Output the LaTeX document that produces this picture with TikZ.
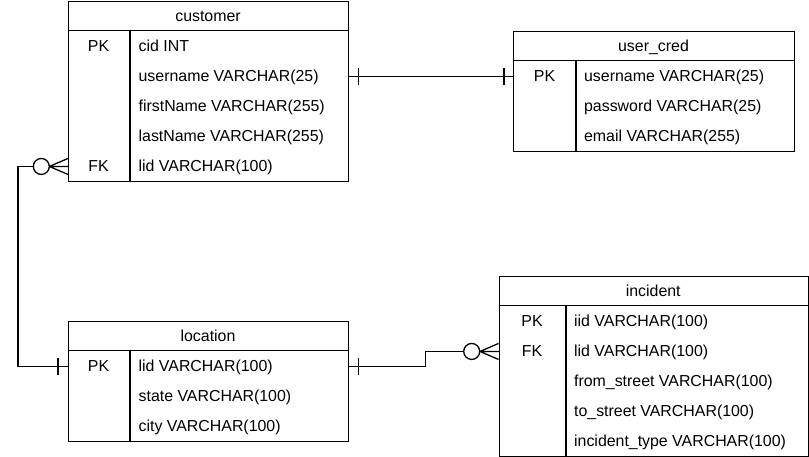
\documentclass[tikz,border=0pt]{standalone}
\usepackage{fontspec}
\setmainfont{Liberation Sans}
\begin{document}
\begin{tikzpicture}[x=1pt,y=-1pt,line width=1.3pt,
  font=\fontsize{15.9}{18}\selectfont,
  tbl/.style={draw,inner sep=0pt,anchor=north west},
  rowbox/.style={inner sep=0pt,anchor=north west,minimum height=30pt},
  keytext/.style={inner sep=0pt,anchor=center,text height=11pt,text depth=0pt,yshift=-0.3pt},
  fieldtext/.style={inner sep=0pt,anchor=west,text height=11pt,text depth=0pt,yshift=-0.3pt},
  headtext/.style={inner sep=0pt,anchor=center,text height=11pt,text depth=0pt,yshift=-0.3pt},
  crowcircle/.style={draw,fill=white,circle,inner sep=0pt,minimum size=16pt}]
\useasboundingbox (0,-0.8) rectangle (809,455.2);

% ---------- customer ----------
\node[tbl,minimum width=280pt,minimum height=180pt] (customer) at (68,0) {};
\draw (68,30) -- (348,30);
\draw (130,30) -- (130,180);
\node[headtext] (customer-h) at (208,15) {customer};
\node[rowbox,minimum width=280pt] (customer-cid) at (68,30) {};
\node[rowbox,minimum width=280pt] (customer-username) at (68,60) {};
\node[rowbox,minimum width=280pt] (customer-first) at (68,90) {};
\node[rowbox,minimum width=280pt] (customer-last) at (68,120) {};
\node[rowbox,minimum width=280pt] (customer-lid) at (68,150) {};
\node[keytext] (customer-k1) at (98.5,45) {PK};
\node[keytext] (customer-k5) at (98.5,165) {FK};
\node[fieldtext] (customer-f1) at (138,45) {cid INT};
\node[fieldtext] (customer-f2) at (138,75) {username VARCHAR(25)};
\node[fieldtext] (customer-f3) at (138,105) {firstName VARCHAR(255)};
\node[fieldtext] (customer-f4) at (138,135) {lastName VARCHAR(255)};
\node[fieldtext] (customer-f5) at (138,165) {lid VARCHAR(100)};

% ---------- user_cred ----------
\node[tbl,minimum width=281pt,minimum height=120pt] (usercred) at (513,30) {};
\draw (513,60) -- (794,60);
\draw (576,60) -- (576,150);
\node[headtext] (usercred-h) at (653.5,45) {user\_cred};
\node[rowbox,minimum width=281pt] (usercred-username) at (513,60) {};
\node[rowbox,minimum width=281pt] (usercred-password) at (513,90) {};
\node[rowbox,minimum width=281pt] (usercred-email) at (513,120) {};
\node[keytext] (usercred-k1) at (544.5,75) {PK};
\node[fieldtext] (usercred-f1) at (583.5,75) {username VARCHAR(25)};
\node[fieldtext] (usercred-f2) at (583.5,105) {password VARCHAR(25)};
\node[fieldtext] (usercred-f3) at (583.5,135) {email VARCHAR(255)};

% ---------- location ----------
\node[tbl,minimum width=280pt,minimum height=120pt] (location) at (68,320) {};
\draw (68,350) -- (348,350);
\draw (130,350) -- (130,440);
\node[headtext] (location-h) at (208,335) {location};
\node[rowbox,minimum width=280pt] (location-lid) at (68,350) {};
\node[rowbox,minimum width=280pt] (location-state) at (68,380) {};
\node[rowbox,minimum width=280pt] (location-city) at (68,410) {};
\node[keytext] (location-k1) at (98.5,365) {PK};
\node[fieldtext] (location-f1) at (138,365) {lid VARCHAR(100)};
\node[fieldtext] (location-f2) at (138,395) {state VARCHAR(100)};
\node[fieldtext] (location-f3) at (138,425) {city VARCHAR(100)};

% ---------- incident ----------
\node[tbl,minimum width=309.5pt,minimum height=180pt] (incident) at (498.5,275) {};
\draw (498.5,305) -- (808,305);
\draw (566,305) -- (566,455);
\node[headtext] (incident-h) at (653.25,290) {incident};
\node[rowbox,minimum width=309.5pt] (incident-iid) at (498.5,305) {};
\node[rowbox,minimum width=309.5pt] (incident-lid) at (498.5,335) {};
\node[rowbox,minimum width=309.5pt] (incident-from) at (498.5,365) {};
\node[rowbox,minimum width=309.5pt] (incident-to) at (498.5,395) {};
\node[rowbox,minimum width=309.5pt] (incident-type) at (498.5,425) {};
\node[keytext] (incident-k1) at (532,320) {PK};
\node[keytext] (incident-k2) at (532,350) {FK};
\node[fieldtext] (incident-f1) at (573.5,320) {iid VARCHAR(100)};
\node[fieldtext] (incident-f2) at (573.5,350) {lid VARCHAR(100)};
\node[fieldtext] (incident-f3) at (573.5,380) {from\_street VARCHAR(100)};
\node[fieldtext] (incident-f4) at (573.5,410) {to\_street VARCHAR(100)};
\node[fieldtext] (incident-f5) at (573.5,440) {incident\_type VARCHAR(100)};

% ---------- connectors ----------
% customer.lid (zero-or-many) -- location.lid (one)
\draw (customer-lid.west) -- ++(-50,0) |- (location-lid.west);
\draw ([xshift=-18.7pt]customer-lid.west) -- ([yshift=8pt]customer-lid.west)
      ([xshift=-18.7pt]customer-lid.west) -- (customer-lid.west)
      ([xshift=-18.7pt]customer-lid.west) -- ([yshift=-8pt]customer-lid.west);
\node[crowcircle] (c1) at ([xshift=-26.7pt]customer-lid.west) {};
\draw ([xshift=-10pt,yshift=8.5pt]location-lid.west) -- ([xshift=-10pt,yshift=-8.5pt]location-lid.west);

% customer.username (one) -- user_cred.username (one)
\draw (customer-username.east) -- (usercred-username.west);
\draw ([xshift=9pt,yshift=8.5pt]customer-username.east) -- ([xshift=9pt,yshift=-8.5pt]customer-username.east);
\draw ([xshift=-9pt,yshift=8.5pt]usercred-username.west) -- ([xshift=-9pt,yshift=-8.5pt]usercred-username.west);

% location.lid (one) -- incident.lid (zero-or-many)
\draw (location-lid.east) -- ++(76,0) |- (incident-lid.west);
\draw ([xshift=9pt,yshift=8.5pt]location-lid.east) -- ([xshift=9pt,yshift=-8.5pt]location-lid.east);
\draw ([xshift=-18.5pt]incident-lid.west) -- ([yshift=8pt]incident-lid.west)
      ([xshift=-18.5pt]incident-lid.west) -- (incident-lid.west)
      ([xshift=-18.5pt]incident-lid.west) -- ([yshift=-8pt]incident-lid.west);
\node[crowcircle] (c2) at ([xshift=-26.8pt]incident-lid.west) {};
\end{tikzpicture}
\end{document}
